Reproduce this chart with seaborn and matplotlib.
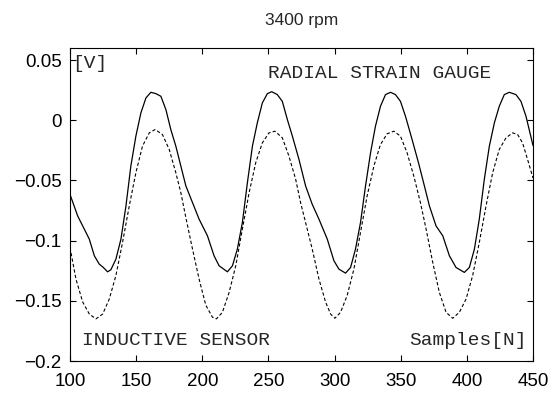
import numpy as np
import pandas as pd
import matplotlib
matplotlib.use("Agg")
import matplotlib.pyplot as plt
import seaborn as sns

# ---- data ----
title = "3400 rpm"
x_ticks = [100, 150, 200, 250, 300, 350, 400, 450]
x_ticklabels = ["100", "150", "200", "250", "300", "350", "400", "450"]
y_ticks = [-0.2, -0.15, -0.1, -0.05, 0, 0.05]
y_ticklabels = ["\u22120.2", "\u22120.15", "\u22120.1", "\u22120.05", "0", "0.05"]

strain_x = [100, 105.8, 109.6, 114.6, 118.4, 122.1, 125.2, 128.4, 130.9, 134.7,
            138.5, 142.3, 146, 149.8, 153.6, 157.4, 161.1, 164.9, 168.7, 172.5,
            176.2, 180, 183.8, 187.6, 192.6, 197.6, 203.9, 208.9, 212.7, 219,
            222.8, 226.5, 230.3, 234.1, 237.9, 241.6, 245.4, 249.2, 252.5, 256.7,
            260.5, 264.3, 268.1, 273.1, 278.1, 283.1, 288.2, 294.5, 299.5, 303.3,
            308.3, 312.1, 315.8, 319.6, 323.4, 327.2, 330.9, 334.7, 338.5, 342.3,
            346, 349.8, 353.6, 358.6, 363.6, 368, 371.7, 376.7, 381.8, 386.8,
            391.8, 398.1, 401.9, 405.7, 409.4, 413.2, 417, 420.8, 424.5, 428.3,
            432.1, 437.1, 440.9, 444.7, 450]
strain_y = [-0.0616, -0.0795, -0.0878, -0.0988, -0.1126, -0.1195, -0.1223, -0.1259, -0.1242, -0.1154,
            -0.0988, -0.0712, -0.0381, -0.0132, 0.0061, 0.0185, 0.0232, 0.0221, 0.0199, 0.0088,
            -0.0077, -0.0215, -0.0381, -0.0546, -0.0684, -0.0822, -0.0960, -0.1126, -0.1209, -0.1259,
            -0.1209, -0.1071, -0.0850, -0.0519, -0.0215, -0.0022, 0.0144, 0.0221, 0.0237, 0.0213,
            0.0157, 0.0006, -0.0132, -0.0326, -0.0546, -0.0698, -0.0822, -0.0988, -0.1167, -0.1237,
            -0.1270, -0.1223, -0.1071, -0.0850, -0.0546, -0.0270, -0.0050, 0.0116, 0.0213, 0.0232,
            0.0213, 0.0157, 0.0033, -0.0160, -0.0360, -0.0550, -0.0712, -0.0878, -0.0960, -0.1126,
            -0.1223, -0.1264, -0.1223, -0.1071, -0.0822, -0.0491, -0.0215, -0.0022, 0.0116, 0.0213,
            0.0232, 0.0213, 0.0157, 0.0033, -0.0210]

inductive_x = [100, 104.5, 109.6, 114.6, 119.6, 124.7, 129.7, 134.7, 139.7, 144.8,
               149.8, 154.8, 159.9, 164.4, 169.9, 175, 180, 183.8, 187.6, 192.6,
               197.6, 202.6, 207.7, 210.7, 215.2, 220.3, 225.3, 230.3, 235.4, 240.4,
               245.4, 250.4, 254.9, 260.5, 265.5, 270.6, 274.3, 278.1, 283.1, 288.2,
               293.2, 297, 300.2, 304.5, 309.5, 314.6, 319.6, 324.6, 329.7, 334.7,
               339.7, 344.8, 349.8, 354.8, 359.9, 364.9, 369.2, 374.2, 379.2, 384.3,
               389.3, 394.3, 399.4, 404.4, 409.4, 414.5, 419.5, 424.5, 429.6, 434.6,
               438.4, 442.1, 445.9, 450]
inductive_y = [-0.1057, -0.1320, -0.1510, -0.1610, -0.1650, -0.1610, -0.1485, -0.1290, -0.1016, -0.0712,
               -0.0436, -0.0215, -0.0105, -0.0077, -0.0119, -0.0243, -0.0436, -0.0602, -0.0810, -0.1070,
               -0.1320, -0.1535, -0.1637, -0.1650, -0.1596, -0.1430, -0.1209, -0.0905, -0.0602, -0.0353,
               -0.0188, -0.0105, -0.0091, -0.0146, -0.0298, -0.0491, -0.0684, -0.0850, -0.1070, -0.1320,
               -0.1510, -0.1610, -0.1645, -0.1596, -0.1457, -0.1237, -0.0933, -0.0629, -0.0381, -0.0202,
               -0.0113, -0.0091, -0.0132, -0.0270, -0.0464, -0.0684, -0.0905, -0.1181, -0.1430, -0.1596,
               -0.1645, -0.1596, -0.1485, -0.1290, -0.1016, -0.0712, -0.0436, -0.0243, -0.0146, -0.0105,
               -0.0119, -0.0188, -0.0326, -0.0480]

# ---- figure ----
sns.set_style("ticks")
plt.rcParams["font.family"] = ["Liberation Sans", "DejaVu Sans"]

fig = plt.figure(figsize=(5.57, 3.94), dpi=100)
ax = fig.add_axes([70 / 557, 1 - 361 / 394, 463 / 557, 313 / 394])

strain = pd.DataFrame({"x": strain_x, "y": strain_y})
induct = pd.DataFrame({"x": inductive_x, "y": inductive_y})

sns.lineplot(data=strain, x="x", y="y", ax=ax, color="black", linewidth=0.9,
             sort=False, estimator=None)
sns.lineplot(data=induct, x="x", y="y", ax=ax, color="black", linewidth=0.8,
             linestyle=(0, (3, 2)), sort=False, estimator=None)

ax.set_xlim(100, 450)
ax.set_ylim(-0.2, 0.06)
ax.set_xticks(x_ticks)
ax.set_xticklabels(x_ticklabels)
ax.set_yticks(y_ticks)
ax.set_yticklabels(y_ticklabels)
ax.set_xlabel("")
ax.set_ylabel("")
ax.tick_params(direction="in", length=4, width=0.8, top=True, right=True,
               labelsize=13.5, colors="black")
ax.tick_params(axis="y", pad=6)
ax.tick_params(axis="x", pad=8.5)
for s in ax.spines.values():
    s.set_visible(True)
    s.set_color("black")
    s.set_linewidth(0.8)

mono = ["Liberation Mono", "DejaVu Sans Mono"]
ax.text(0.004, 0.952, "[V]", transform=ax.transAxes, family=mono, fontsize=14,
        ha="left", va="center")
ax.text(0.428, 0.917, "RADIAL STRAIN GAUGE", transform=ax.transAxes, family=mono,
        fontsize=14, ha="left", va="center")
ax.text(0.026, 0.067, "INDUCTIVE SENSOR", transform=ax.transAxes, family=mono,
        fontsize=14, ha="left", va="center")
ax.text(0.987, 0.067, "Samples[N]", transform=ax.transAxes, family=mono,
        fontsize=14, ha="right", va="center")

fig.text((70 + 463 / 2) / 557, 1 - 21 / 394, title, ha="center", va="center",
         fontsize=12.5)

fig.savefig("out.png", dpi=100)
